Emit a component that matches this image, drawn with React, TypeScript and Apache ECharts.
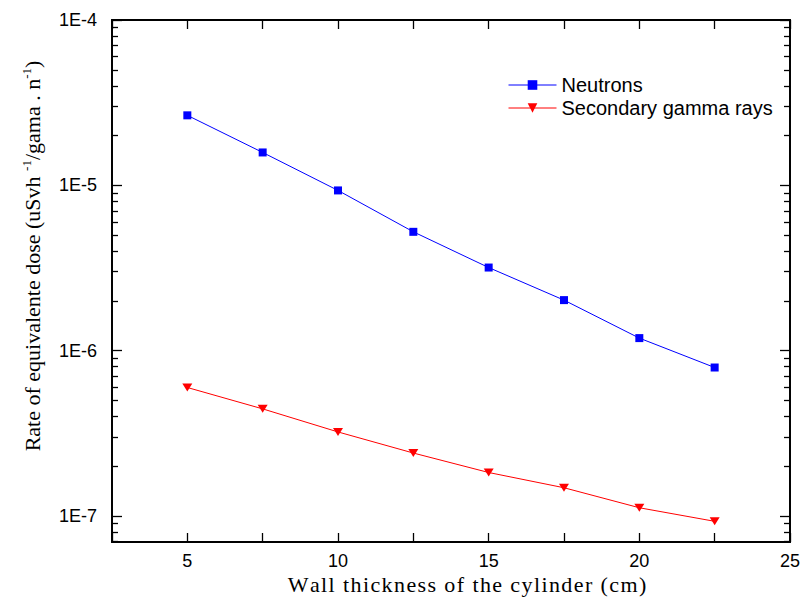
import React, { useEffect, useRef } from "react";
import * as echarts from "echarts";

const thickness = [5, 7.5, 10, 12.5, 15, 17.5, 20, 22.5];
const neutrons = [2.65e-5, 1.58e-5, 9.31e-6, 5.23e-6, 3.18e-6, 2.02e-6, 1.19e-6, 7.9e-7];
const gamma = [5.98e-7, 4.44e-7, 3.22e-7, 2.4e-7, 1.83e-7, 1.48e-7, 1.12e-7, 9.27e-8];
const yMajorExp = [-7, -6, -5, -4];
const xLabels = [5, 10, 15, 20, 25];
const xTitle = "Wall thickness of the cylinder (cm)";

const Y_MIN = -7.158;
const Y_MAX = -4;

function minorExps(): number[] {
  const out: number[] = [];
  for (let e = -8; e < -4; e++) {
    for (let k = 2; k <= 9; k++) {
      const v = e + Math.log10(k);
      if (v >= Y_MIN && v <= Y_MAX) out.push(v);
    }
  }
  return out;
}

export default function App() {
  const ref = useRef<HTMLDivElement>(null);
  useEffect(() => {
    if (!ref.current) return;
    const chart = echarts.init(ref.current, undefined, { renderer: "svg" });
    const minors = minorExps();
    const axisLine = { show: true, lineStyle: { color: "#000", width: 1.8 } };
    const sans = "Liberation Sans, Arial, sans-serif";
    const serif = "Liberation Serif, Times New Roman, serif";
    const xBase = {
      type: "value",
      min: 2.5,
      max: 25,
      interval: 2.5,
      axisLine,
      splitLine: { show: false },
      axisTick: { show: true, inside: true, length: 9, lineStyle: { color: "#000", width: 1.3 } },
    };
    const yBase = {
      type: "value",
      min: Y_MIN,
      max: Y_MAX,
      axisLine,
      splitLine: { show: false },
    };
    const toLog = (arr: number[]) => thickness.map((x, i) => [x, Math.log10(arr[i])]);
    const xTitleRich = xTitle
      .split("")
      .map((c) => "{c|" + c + "}")
      .join("");
    chart.setOption({
      animation: false,
      grid: { left: 112, right: 11, top: 20, bottom: 59 },
      legend: {
        orient: "vertical",
        left: 508,
        top: 75,
        padding: 0,
        itemWidth: 48,
        itemHeight: 12,
        itemGap: 3,
        lineStyle: { width: 1 },
        textStyle: { fontFamily: sans, fontSize: 20, color: "#000" },
        data: ["Neutrons", "Secondary gamma rays"],
      },
      xAxis: [
        {
          ...xBase,
          position: "bottom",
          axisLabel: {
            show: true,
            margin: 10,
            fontFamily: sans,
            fontSize: 18,
            color: "#000",
            formatter: (v: number) => (xLabels.indexOf(v) >= 0 ? String(v) : ""),
          },
        },
        { ...xBase, position: "top", axisLabel: { show: false } },
      ],
      yAxis: [
        {
          ...yBase,
          position: "left",
          axisTick: { show: true, inside: true, length: 10, customValues: yMajorExp, lineStyle: { color: "#000", width: 1.3 } },
          axisLabel: {
            show: true,
            customValues: yMajorExp,
            margin: 15,
            fontFamily: sans,
            fontSize: 18,
            color: "#000",
            formatter: (v: number) => "1E" + Math.round(v),
          },
        },
        {
          ...yBase,
          position: "left",
          axisTick: { show: true, inside: true, length: 6, customValues: minors, lineStyle: { color: "#000", width: 1.3 } },
          axisLabel: { show: false },
        },
        {
          ...yBase,
          position: "right",
          axisTick: { show: true, inside: true, length: 10, customValues: yMajorExp, lineStyle: { color: "#000", width: 1.3 } },
          axisLabel: { show: false },
        },
        {
          ...yBase,
          position: "right",
          axisTick: { show: true, inside: true, length: 6, customValues: minors, lineStyle: { color: "#000", width: 1.3 } },
          axisLabel: { show: false },
        },
      ],
      series: [
        {
          name: "Neutrons",
          type: "line",
          xAxisIndex: 0,
          yAxisIndex: 0,
          data: toLog(neutrons),
          symbol: "rect",
          symbolSize: 8,
          itemStyle: { color: "#0000ff" },
          lineStyle: { color: "#0000ff", width: 1 },
        },
        {
          name: "Secondary gamma rays",
          type: "line",
          xAxisIndex: 0,
          yAxisIndex: 0,
          data: toLog(gamma),
          symbol: "triangle",
          symbolRotate: 180,
          symbolSize: [10, 8],
          itemStyle: { color: "#ff0000" },
          lineStyle: { color: "#ff0000", width: 1 },
        },
      ],
      graphic: [
        {
          type: "text",
          x: 32,
          y: 256,
          rotation: Math.PI / 2,
          style: {
            text: "{a|Rate of equivalente dose (uSvh }{s|-1}{a|/gama . n}{s|-1}{a|)}",
            align: "center",
            verticalAlign: "middle",
            rich: {
              a: { fontFamily: serif, fontSize: 22, lineHeight: 24, fill: "#000" },
              s: { fontFamily: serif, fontSize: 13, lineHeight: 24, verticalAlign: "top", fill: "#000" },
            },
          },
        },
        {
          type: "text",
          x: 467,
          y: 584,
          style: {
            text: xTitleRich,
            align: "center",
            verticalAlign: "middle",
            rich: {
              c: { fontFamily: serif, fontSize: 22, fill: "#000", padding: [0, 0.7, 0, 0.7] },
            },
          },
        },
      ],
    });
    return () => chart.dispose();
  }, []);
  return <div ref={ref} style={{ position: "absolute", left: 0, top: 0, width: 803, height: 601 }} />;
}
